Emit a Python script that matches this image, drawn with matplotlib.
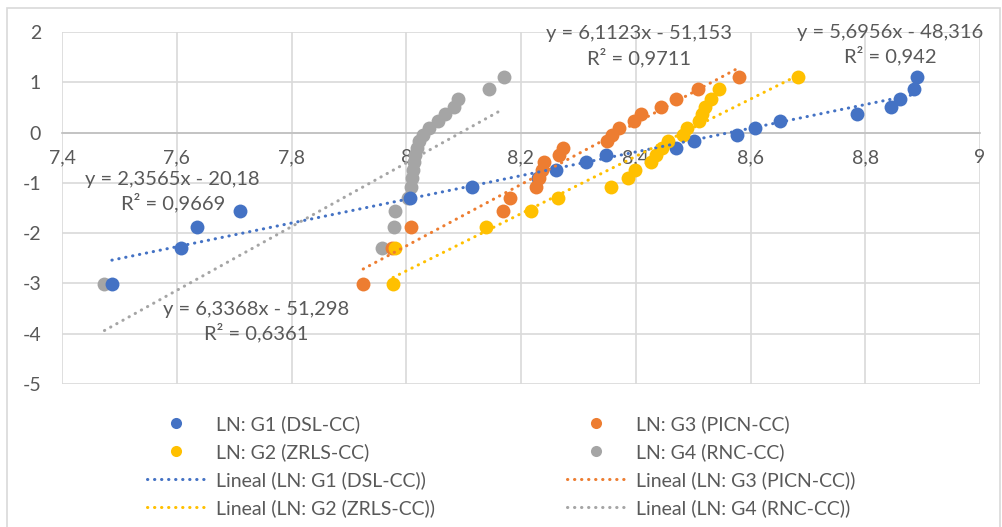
import matplotlib
matplotlib.use("Agg")
import matplotlib.pyplot as plt
from matplotlib.lines import Line2D
from matplotlib.patches import Rectangle
import numpy as np

plt.rcParams['font.family'] = ['Lato', 'DejaVu Sans']

# Weibull plotting positions, shared by every group
y_levels = [-3.02, -2.30, -1.87, -1.55, -1.30, -1.09, -0.90, -0.74, -0.58, -0.44,
            -0.30, -0.17, -0.04, 0.09, 0.23, 0.36, 0.51, 0.67, 0.86, 1.11]

# ln(value) per group, sorted
g1_dsl = [7.487, 7.608, 7.636, 7.710, 8.006, 8.115, 8.230, 8.261, 8.314, 8.349,
          8.470, 8.502, 8.576, 8.608, 8.651, 8.785, 8.845, 8.861, 8.885, 8.890]
g2_zrls = [7.977, 7.981, 8.139, 8.218, 8.264, 8.357, 8.386, 8.398, 8.427, 8.436,
           8.445, 8.456, 8.482, 8.490, 8.510, 8.516, 8.520, 8.531, 8.545, 8.683]
g3_picn = [7.925, 7.975, 8.009, 8.168, 8.180, 8.226, 8.232, 8.236, 8.240, 8.267,
           8.273, 8.350, 8.358, 8.370, 8.397, 8.410, 8.444, 8.470, 8.508, 8.580]
g4_rnc = [7.474, 7.958, 7.978, 7.981, 8.003, 8.008, 8.010, 8.012, 8.013, 8.015,
          8.018, 8.022, 8.030, 8.040, 8.055, 8.068, 8.083, 8.090, 8.145, 8.170]

# Linear trend coefficients (slope, intercept) and R²
fit_g1 = (2.3565, -20.18, "0,9669")
fit_g2 = (5.6956, -48.316, "0,942")
fit_g3 = (6.1123, -51.153, "0,9711")
fit_g4 = (6.3368, -51.298, "0,6361")

names = ["LN: G1 (DSL-CC)", "LN: G2 (ZRLS-CC)", "LN: G3 (PICN-CC)", "LN: G4 (RNC-CC)"]
colors = ["#4472C4", "#FFC000", "#ED7D31", "#A5A5A5"]

x_ticks = [7.4, 7.6, 7.8, 8.0, 8.2, 8.4, 8.6, 8.8, 9.0]
x_ticklabels = ["7,4", "7,6", "7,8", "8", "8,2", "8,4", "8,6", "8,8", "9"]
y_ticks = [-5, -4, -3, -2, -1, 0, 1, 2]

txt_col = "#595959"
grid_col = "#D9D9D9"
fs = 14

W, H = 1003, 527
fig = plt.figure(figsize=(W / 100, H / 100), dpi=100)
fig.patch.set_facecolor("white")

# chart frame
fig.patches.append(Rectangle((7 / W, -0.05), (1000 - 7) / W, (H - 8) / H + 0.05,
                             transform=fig.transFigure, fill=False,
                             edgecolor=grid_col, lw=1.2))

ax = fig.add_axes([62 / W, 1 - 384 / H, (980 - 62) / W, (384 - 32) / H])
ax.set_xlim(7.4, 9.0)
ax.set_ylim(-5, 2)
ax.set_xticks(x_ticks)
ax.set_xticklabels(x_ticklabels)
ax.set_yticks(y_ticks)
ax.set_yticklabels([str(v) for v in y_ticks])
ax.grid(True, color=grid_col, lw=1.2, zorder=0)
ax.set_axisbelow(True)
for s in ["top", "right", "left"]:
    ax.spines[s].set_visible(False)
ax.spines["bottom"].set_position(("data", 0))
ax.spines["bottom"].set_color("#BFBFBF")
ax.spines["bottom"].set_linewidth(1.2)
ax.tick_params(axis="x", length=0, pad=12, labelsize=fs, labelcolor=txt_col)
ax.tick_params(axis="y", length=0, pad=15, labelsize=fs, labelcolor=txt_col)

series = [g1_dsl, g2_zrls, g3_picn, g4_rnc]
fits = [fit_g1, fit_g2, fit_g3, fit_g4]
draw_order = [3, 0, 2, 1]
dot = (0, (0.1, 2.2))

for i in draw_order:
    ax.plot(series[i], y_levels, "o", color=colors[i], ms=10, mec="none",
            zorder=3 + draw_order.index(i), clip_on=False)

for i in draw_order:
    m, b, _ = fits[i]
    xs = np.array([min(series[i]), max(series[i])])
    ax.plot(xs, m * xs + b, color=colors[i], lw=2.2, linestyle=dot,
            dash_capstyle="round", zorder=8)


def eq_text(m, b):
    s = f"y = {m:.4f}".rstrip("0").replace(".", ",")
    bb = f"{abs(b):g}".replace(".", ",")
    return f"{s}x - {bb}"


# equation labels: (x, y of first line, y of second line)
eq_pos = [(7.593, -0.94, -1.395), (8.843, 2.0, 1.54), (8.406, 1.98, 1.50), (7.738, -3.52, -3.97)]
for i in range(4):
    m, b, r2 = fits[i]
    x, y1, y2 = eq_pos[i]
    ax.text(x, y1, eq_text(m, b), ha="center", va="center", fontsize=fs + 0.5,
            color=txt_col, zorder=10, clip_on=False)
    ax.text(x, y2, f"R² = {r2}", ha="center", va="center", fontsize=fs + 0.5,
            color=txt_col, zorder=10, clip_on=False)


def legend_handles(idx):
    hs, labels = [], []
    for i in idx:
        hs.append(Line2D([], [], marker="o", ls="none", color=colors[i], ms=8, mec="none"))
        labels.append(names[i])
    for i in idx:
        hs.append(Line2D([], [], color=colors[i], lw=2.2, ls=dot, dash_capstyle="round"))
        labels.append(f"Lineal ({names[i]})")
    return hs, labels


leg_kw = dict(frameon=False, loc="upper left", borderpad=0, borderaxespad=0,
              handlelength=3.0, handletextpad=0.55, labelspacing=0.52,
              fontsize=fs, labelcolor=txt_col, numpoints=1)
h1, l1 = legend_handles([0, 1])
fig.legend(h1, l1, bbox_to_anchor=(147 / W, 1 - 415 / H), **leg_kw)
h2, l2 = legend_handles([2, 3])
fig.legend(h2, l2, bbox_to_anchor=(567 / W, 1 - 415 / H), **leg_kw)

fig.savefig("out.png", dpi=100)
